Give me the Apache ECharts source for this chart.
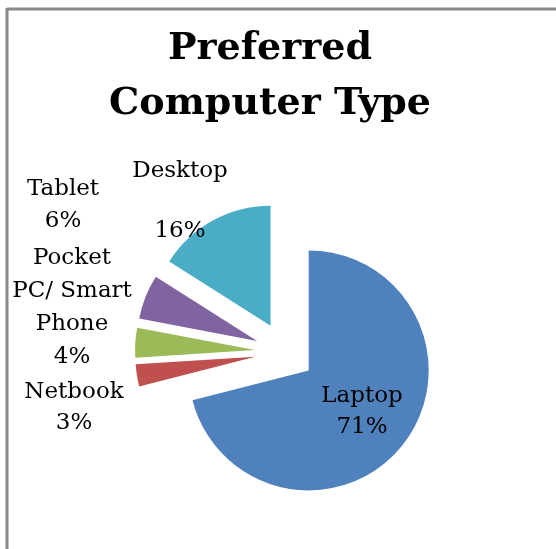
<!DOCTYPE html>
<html>
<head>
<meta charset="utf-8">
<script src="https://cdn.jsdelivr.net/npm/echarts@6/dist/echarts.min.js"></script>
<style>
html,body{margin:0;padding:0;background:#fff;}
#c{width:556px;height:549px;}
</style>
</head>
<body>
<div id="c"></div>
<script>
const categories = ['Laptop', 'Netbook', 'Pocket\nPC/ Smart\nPhone', 'Tablet', 'Desktop'];
const values = [71, 3, 4, 6, 16];
const colors = ['#4F81BD', '#C0504D', '#9BBB59', '#8064A2', '#4BACC6'];
const titleText = 'Preferred\nComputer Type';

// label anchor points (layout only)
const labelAnchors = [[362, 412], [74, 408], [72, 308], [63, 205], [180, 201]];
const labelLineHeights = [31, 31, 33, 32, 30];

const labelFont = 'DejaVu Serif';
const labelGraphics = categories.map(function (n, i) {
  const txt = n === 'Desktop' ? n + '\n\n' + values[i] + '%' : n + '\n' + values[i] + '%';
  return {
    type: 'text',
    x: labelAnchors[i][0],
    y: labelAnchors[i][1],
    z: 20,
    silent: true,
    style: {
      text: txt,
      fontFamily: labelFont,
      fontSize: 23,
      lineHeight: labelLineHeights[i],
      fill: '#000',
      align: 'center',
      verticalAlign: 'middle'
    }
  };
});

const chart = echarts.init(document.getElementById('c'), null, {renderer: 'canvas'});
chart.setOption({
  animation: false,
  backgroundColor: '#fff',
  graphic: [
    {type: 'line', shape: {x1: 7, y1: 9, x2: 560, y2: 9}, style: {stroke: '#888', lineWidth: 3}, z: 10},
    {type: 'line', shape: {x1: 7, y1: 8, x2: 7, y2: 560}, style: {stroke: '#888', lineWidth: 3}, z: 10}
  ].concat(labelGraphics),
  title: {
    text: titleText,
    left: 265,
    top: 17,
    textAlign: 'center',
    textStyle: {fontFamily: 'DejaVu Serif', fontWeight: 'bold', fontSize: 38, lineHeight: 55, color: '#000'}
  },
  series: [{
    type: 'pie',
    center: [285, 352],
    radius: 120,
    startAngle: 90,
    clockwise: true,
    selectedMode: 'multiple',
    selectedOffset: 30,
    emphasis: {disabled: true},
    select: {itemStyle: {borderWidth: 0}},
    itemStyle: {borderWidth: 0},
    label: {show: false},
    labelLine: {show: false},
    data: categories.map(function (n, i) {
      return {name: n, value: values[i], selected: true, itemStyle: {color: colors[i]}};
    })
  }]
});
</script>
</body>
</html>
